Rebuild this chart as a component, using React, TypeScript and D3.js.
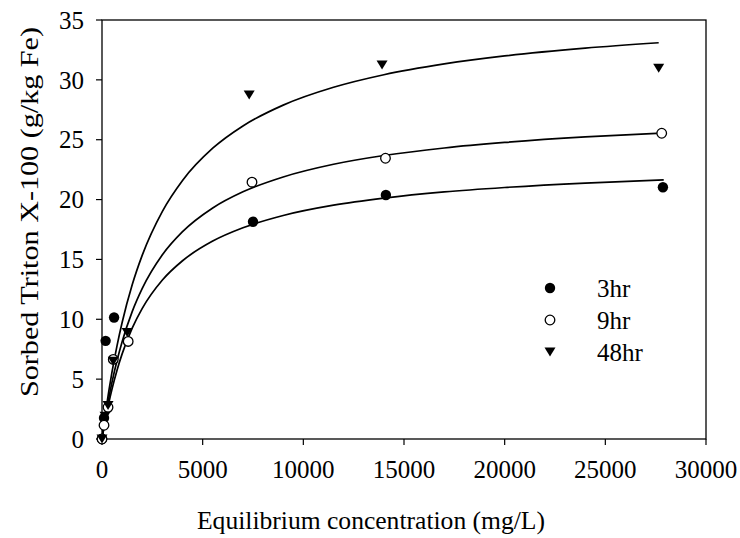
import React from "react";
import * as d3 from "d3";

// Observed data points (Equilibrium concentration mg/L, Sorbed g/kg Fe)
const series3hr: [number, number][] = [
  [0, 0], [100, 1.75], [180, 8.2], [600, 10.15], [7500, 18.15], [14100, 20.38], [27860, 21.03],
];
const series9hr: [number, number][] = [
  [0, 0], [100, 1.15], [300, 2.65], [560, 6.65], [1300, 8.15], [7450, 21.45], [14080, 23.45], [27800, 25.54],
];
const series48hr: [number, number][] = [
  [0, 0], [150, 1.9], [300, 2.8], [560, 6.5], [1250, 8.9], [7310, 28.74], [13910, 31.25], [27650, 30.97],
];

// Fitted curves
const fit3hr: [number, number][] = [
  [0, 0], [25, 0.25], [50, 0.5], [100, 0.98], [200, 1.88], [350, 3.1], [500, 4.19], [750, 5.77],
  [1000, 7.11], [1500, 9.26], [2000, 10.91], [3000, 13.28], [4000, 14.89], [5500, 16.53], [7000, 17.64],
  [9000, 18.67], [11500, 19.53], [14000, 20.12], [17000, 20.64], [20000, 21.01], [24000, 21.38], [27900, 21.64],
];
const fit9hr: [number, number][] = [
  [0, 0], [25, 0.28], [50, 0.56], [100, 1.1], [200, 2.12], [350, 3.52], [500, 4.77], [750, 6.58],
  [1000, 8.13], [1500, 10.64], [2000, 12.58], [3000, 15.39], [4000, 17.32], [5500, 19.3], [7000, 20.65],
  [9000, 21.89], [11500, 22.95], [14000, 23.68], [17000, 24.31], [20000, 24.77], [24000, 25.23], [27750, 25.54],
];
const fit48hr: [number, number][] = [
  [0, 0], [25, 0.33], [50, 0.65], [100, 1.28], [200, 2.48], [350, 4.12], [500, 5.62], [750, 7.82],
  [1000, 9.73], [1500, 12.88], [2000, 15.36], [3000, 19.02], [4000, 21.6], [5500, 24.29], [7000, 26.15],
  [9000, 27.89], [11500, 29.38], [14000, 30.43], [17000, 31.33], [20000, 32.0], [24000, 32.65], [27650, 33.1],
];

const xTicks = [0, 5000, 10000, 15000, 20000, 25000, 30000];
const yTicks = [0, 5, 10, 15, 20, 25, 30, 35];
const legendLabels = ["3hr", "9hr", "48hr"];

const W = 740;
const H = 538;
const FONT = "'Liberation Serif', 'Times New Roman', serif";

function Marker({ kind, x, y }: { kind: string; x: number; y: number }) {
  if (kind === "filled") return <circle cx={x} cy={y} r={5.2} fill="#000" />;
  if (kind === "open")
    return <circle cx={x} cy={y} r={4.8} fill="#fff" stroke="#000" strokeWidth={1.3} />;
  const p = `M${x - 5.5},${y - 4.5}L${x + 5.5},${y - 4.5}L${x},${y + 4.5}Z`;
  return <path d={p} fill="#000" />;
}

export default function App() {
  const x = d3.scaleLinear().domain([0, 30000]).range([102, 706]);
  const y = d3.scaleLinear().domain([0, 35]).range([439, 20]);
  const line = d3
    .line<[number, number]>()
    .x((d) => x(d[0]))
    .y((d) => y(d[1]))
    .curve(d3.curveMonotoneX);

  const groups = [
    { kind: "filled", data: series3hr, fit: fit3hr },
    { kind: "open", data: series9hr, fit: fit9hr },
    { kind: "tri", data: series48hr, fit: fit48hr },
  ];

  return (
    <svg width={W} height={H} style={{ position: "absolute", left: 0, top: 0, background: "#fff" }}>
      <rect x={0} y={0} width={W} height={H} fill="#fff" />
      {/* frame */}
      <rect x={x(0)} y={y(35)} width={x(30000) - x(0)} height={y(0) - y(35)} fill="none" stroke="#000" strokeWidth={1.3} />
      {/* y ticks */}
      {yTicks.map((t) => (
        <g key={"y" + t}>
          <line x1={x(0) - 6} x2={x(0)} y1={y(t)} y2={y(t)} stroke="#000" strokeWidth={1.2} />
          <text x={84} y={y(t)} dy="0.35em" textAnchor="end" fontFamily={FONT} fontSize={25} fill="#000">
            {t}
          </text>
        </g>
      ))}
      {/* x ticks */}
      {xTicks.map((t) => (
        <g key={"x" + t}>
          <line x1={x(t)} x2={x(t)} y1={y(0)} y2={y(0) + 6} stroke="#000" strokeWidth={1.2} />
          <text x={x(t)} y={478} textAnchor="middle" fontFamily={FONT} fontSize={25} fill="#000">
            {t}
          </text>
        </g>
      ))}
      {/* curves */}
      {groups.map((g, i) => (
        <path key={"c" + i} d={line(g.fit) || ""} fill="none" stroke="#000" strokeWidth={1.7} />
      ))}
      {/* points */}
      {groups.map((g, i) =>
        g.data.map((d, j) => <Marker key={"m" + i + "-" + j} kind={g.kind} x={x(d[0])} y={y(d[1])} />)
      )}
      {/* legend */}
      {groups.map((g, i) => (
        <g key={"l" + i}>
          <Marker kind={g.kind} x={550} y={288 + i * 32} />
          <text x={597} y={288 + i * 32} dy="0.35em" fontFamily={FONT} fontSize={25} fill="#000">
            {legendLabels[i]}
          </text>
        </g>
      ))}
      {/* axis titles */}
      <text
        x={371}
        y={529}
        textAnchor="middle"
        fontFamily={FONT}
        fontSize={25}
        fill="#000"
        textLength={348}
        lengthAdjust="spacingAndGlyphs"
      >
        Equilibrium concentration (mg/L)
      </text>
      <text
        transform={`translate(38,212) rotate(-90)`}
        textAnchor="middle"
        fontFamily={FONT}
        fontSize={25}
        fill="#000"
        textLength={370}
        lengthAdjust="spacingAndGlyphs"
      >
        Sorbed Triton X-100 (g/kg Fe)
      </text>
    </svg>
  );
}
